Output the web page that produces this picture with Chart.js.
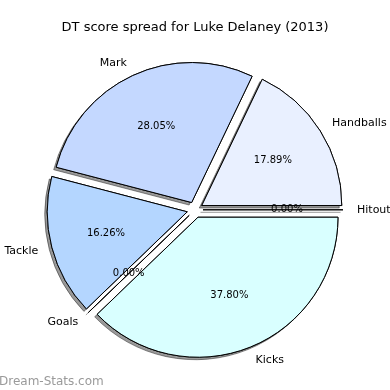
<!DOCTYPE html>
<html>
<head>
<meta charset="utf-8">
<script src="https://cdn.jsdelivr.net/npm/chart.js@4/dist/chart.umd.min.js"></script>
<style>
  html, body { margin: 0; padding: 0; background: #fff; }
  #wrap { width: 390px; height: 390px; }
</style>
</head>
<body>
<div id="wrap"><canvas id="dt-spread" width="390" height="390"></canvas></div>
<script>
// data, in the order the original pie lays it out (counter-clockwise from 3 o'clock)
const titleText = 'DT score spread for Luke Delaney (2013)';
const categories = ['Hitout', 'Handballs', 'Mark', 'Tackle', 'Goals', 'Kicks'];
const shares = [0.00, 17.89, 28.05, 16.26, 0.00, 37.80];
const sliceColors = ['#ffffff', '#e9f0ff', '#c4d8ff', '#b4d6ff', '#ffffff', '#d9ffff'];
const watermark = 'Dream-Stats.com';

const FONT = 'DejaVu Sans';
const EXPLODE = 8;          // px each wedge is pushed out
const SHADOW_DX = -2.5;
const SHADOW_DY = 2.5;

// Chart.js goes clockwise, so flip the order to get the same picture
const rev = a => a.slice().reverse();

function pushOut(el) {
    const mid = (el.startAngle + el.endAngle) / 2;
    return { mid, dx: Math.cos(mid) * EXPLODE, dy: Math.sin(mid) * EXPLODE };
}

// zero-sized wedges still show as a single edge line
function drawSpoke(ctx, el) {
    ctx.save();
    ctx.strokeStyle = '#000';
    ctx.lineWidth = 1;
    ctx.beginPath();
    ctx.moveTo(el.x, el.y);
    ctx.lineTo(el.x + Math.cos(el.startAngle) * el.outerRadius, el.y + Math.sin(el.startAngle) * el.outerRadius);
    ctx.stroke();
    ctx.restore();
}

const explodedPie = {
    id: 'explodedPie',
    beforeDatasetDraw(chart, args) {
        const ctx = chart.ctx;
        const arcs = args.meta.data;
        const paint = (withShadow) => {
            arcs.forEach(el => {
                const s = pushOut(el);
                ctx.save();
                if (withShadow) {
                    ctx.shadowColor = 'rgba(0, 0, 0, 0.4)';
                    ctx.shadowBlur = 0;
                    ctx.shadowOffsetX = SHADOW_DX;
                    ctx.shadowOffsetY = SHADOW_DY;
                }
                ctx.translate(s.dx, s.dy);
                if (el.endAngle - el.startAngle > 0) el.draw(ctx);
                else drawSpoke(ctx, el);
                ctx.restore();
            });
        };
        paint(true);
        paint(false);
        return false;
    },
    afterDatasetsDraw(chart) {
        const ctx = chart.ctx;
        const meta = chart.getDatasetMeta(0);
        const labels = chart.data.labels;
        const values = chart.data.datasets[0].data;
        ctx.save();
        ctx.fillStyle = '#000';
        ctx.textBaseline = 'middle';
        meta.data.forEach((el, i) => {
            const s = pushOut(el);
            const cx = el.x + s.dx;
            const cy = el.y + s.dy;
            const r = el.outerRadius;
            const c = Math.cos(s.mid), sn = Math.sin(s.mid);
            // category name outside
            ctx.font = '11px "' + FONT + '"';
            ctx.textAlign = c > 0 ? 'left' : 'right';
            ctx.fillText(labels[i], cx + c * r * 1.1, cy + sn * r * 1.1);
            // percentage inside
            ctx.font = '10px "' + FONT + '"';
            ctx.textAlign = 'center';
            ctx.fillText(values[i].toFixed(2) + '%', cx + c * r * 0.6, cy + sn * r * 0.6);
        });
        // site watermark
        ctx.fillStyle = '#9a9a9a';
        ctx.font = '12px "' + FONT + '"';
        ctx.textAlign = 'left';
        ctx.textBaseline = 'alphabetic';
        ctx.fillText(watermark, -1, 385);
        ctx.restore();
    }
};

const ctx = document.getElementById('dt-spread').getContext('2d');
window.dtSpreadChart = new Chart(ctx, {
    type: 'pie',
    data: {
        labels: rev(categories),
        datasets: [{
            data: rev(shares),
            backgroundColor: rev(sliceColors),
            borderColor: '#000000',
            borderWidth: 1,
            borderJoinStyle: 'miter',
            radius: 140,
            rotation: 90
        }]
    },
    options: {
        responsive: false,
        animation: false,
        events: [],
        layout: { padding: { top: 0, bottom: 16, left: 0, right: 0 } },
        plugins: {
            legend: { display: false },
            tooltip: { enabled: false },
            title: {
                display: true,
                text: titleText,
                color: '#000',
                font: { family: FONT, size: 13, weight: 'normal' },
                padding: { top: 20, bottom: 10 }
            }
        }
    },
    plugins: [explodedPie]
});
</script>
</body>
</html>
